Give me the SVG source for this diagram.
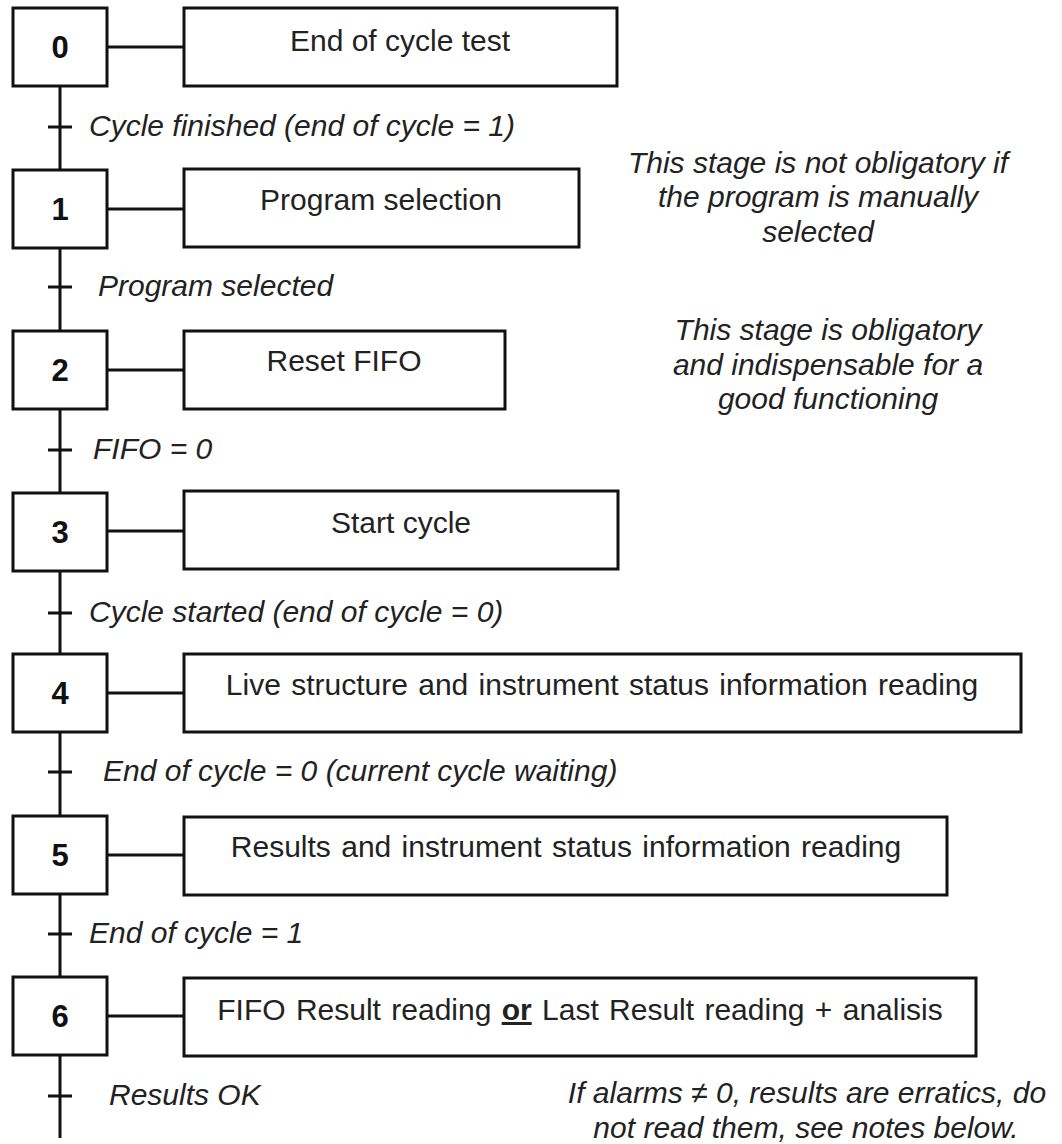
<svg xmlns="http://www.w3.org/2000/svg" width="1062" height="1144" viewBox="0 0 1062 1144">
<style>
.box{fill:#fff;stroke:#111;stroke-width:3}
.ln{stroke:#111;stroke-width:3;fill:none}
.num{font-family:"Liberation Sans",Arial,sans-serif;font-weight:bold;font-size:31px;fill:#111;text-anchor:middle}
.act{font-family:"Liberation Sans",Arial,sans-serif;font-size:30px;fill:#222;text-anchor:middle}
.tr{font-family:"Liberation Sans",Arial,sans-serif;font-style:italic;font-size:30px;fill:#222}
.note{font-family:"Liberation Sans",Arial,sans-serif;font-style:italic;font-size:30px;fill:#222;text-anchor:middle}
</style>
<rect width="1062" height="1144" fill="#fff"/>
<g id="connectors">
<line class="ln" x1="60" y1="86" x2="60" y2="170"/>
<line class="ln" x1="60" y1="248" x2="60" y2="331"/>
<line class="ln" x1="60" y1="409" x2="60" y2="493"/>
<line class="ln" x1="60" y1="571" x2="60" y2="654"/>
<line class="ln" x1="60" y1="732" x2="60" y2="816"/>
<line class="ln" x1="60" y1="894" x2="60" y2="977"/>
<line class="ln" x1="60" y1="1055" x2="60" y2="1138"/>
<line class="ln" x1="107" y1="47" x2="184" y2="47"/>
<line class="ln" x1="107" y1="209" x2="184" y2="209"/>
<line class="ln" x1="107" y1="370" x2="184" y2="370"/>
<line class="ln" x1="107" y1="531" x2="184" y2="531"/>
<line class="ln" x1="107" y1="693" x2="184" y2="693"/>
<line class="ln" x1="107" y1="855" x2="184" y2="855"/>
<line class="ln" x1="107" y1="1016" x2="184" y2="1016"/>
</g>
<g id="transitions">
<g id="t0"><line class="ln" x1="48" y1="127" x2="72" y2="127"/><text class="tr" x="89" y="136">Cycle finished (end of cycle = 1)</text></g>
<g id="t1"><line class="ln" x1="48" y1="287" x2="72" y2="287"/><text class="tr" x="98" y="296">Program selected</text></g>
<g id="t2"><line class="ln" x1="48" y1="450" x2="72" y2="450"/><text class="tr" x="93" y="459">FIFO = 0</text></g>
<g id="t3"><line class="ln" x1="48" y1="613" x2="72" y2="613"/><text class="tr" x="89" y="622">Cycle started (end of cycle = 0)</text></g>
<g id="t4"><line class="ln" x1="48" y1="772" x2="72" y2="772"/><text class="tr" x="103" y="781">End of cycle = 0 (current cycle waiting)</text></g>
<g id="t5"><line class="ln" x1="48" y1="934" x2="72" y2="934"/><text class="tr" x="89" y="943">End of cycle = 1</text></g>
<g id="t6"><line class="ln" x1="48" y1="1096" x2="72" y2="1096"/><text class="tr" x="109" y="1105">Results OK</text></g>
</g>
<g id="step0"><rect class="box" x="13" y="8" width="94" height="78"/><text class="num" x="60" y="58">0</text></g>
<g id="action0"><rect class="box" x="184" y="8" width="433" height="78"/><text class="act" x="400" y="51">End of cycle test</text></g>
<g id="step1"><rect class="box" x="13" y="170" width="94" height="78"/><text class="num" x="60" y="220">1</text></g>
<g id="action1"><rect class="box" x="184" y="169" width="395" height="78"/><text class="act" x="381" y="210">Program selection</text></g>
<g id="step2"><rect class="box" x="13" y="331" width="94" height="78"/><text class="num" x="60" y="381">2</text></g>
<g id="action2"><rect class="box" x="184" y="331" width="321" height="78"/><text class="act" x="344" y="371">Reset FIFO</text></g>
<g id="step3"><rect class="box" x="13" y="493" width="94" height="78"/><text class="num" x="60" y="543">3</text></g>
<g id="action3"><rect class="box" x="184" y="491" width="434" height="78"/><text class="act" x="401" y="533">Start cycle</text></g>
<g id="step4"><rect class="box" x="13" y="654" width="94" height="78"/><text class="num" x="60" y="704">4</text></g>
<g id="action4"><rect class="box" x="184" y="654" width="837" height="78"/><text class="act" x="602" y="695" word-spacing="2">Live structure and instrument status information reading</text></g>
<g id="step5"><rect class="box" x="13" y="816" width="94" height="78"/><text class="num" x="60" y="866">5</text></g>
<g id="action5"><rect class="box" x="184" y="817" width="763" height="78"/><text class="act" x="566" y="857" word-spacing="2">Results and instrument status information reading</text></g>
<g id="step6"><rect class="box" x="13" y="977" width="94" height="78"/><text class="num" x="60" y="1027">6</text></g>
<g id="action6"><rect class="box" x="184" y="978" width="792" height="78"/><text class="act" x="580" y="1020" word-spacing="2">FIFO Result reading <tspan font-weight="bold" text-decoration="underline">or</tspan> Last Result reading + analisis</text></g>
<g id="note1"><text class="note"><tspan x="818" y="173">This stage is not obligatory if</tspan><tspan x="818" y="207">the program is manually</tspan><tspan x="818" y="242">selected</tspan></text></g>
<g id="note2"><text class="note"><tspan x="828" y="340">This stage is obligatory</tspan><tspan x="828" y="375">and indispensable for a</tspan><tspan x="828" y="409">good functioning</tspan></text></g>
<g id="note3"><text class="note"><tspan x="807" y="1103">If alarms ≠ 0, results are erratics, do</tspan><tspan x="806" y="1138">not read them, see notes below.</tspan></text></g>
</svg>
